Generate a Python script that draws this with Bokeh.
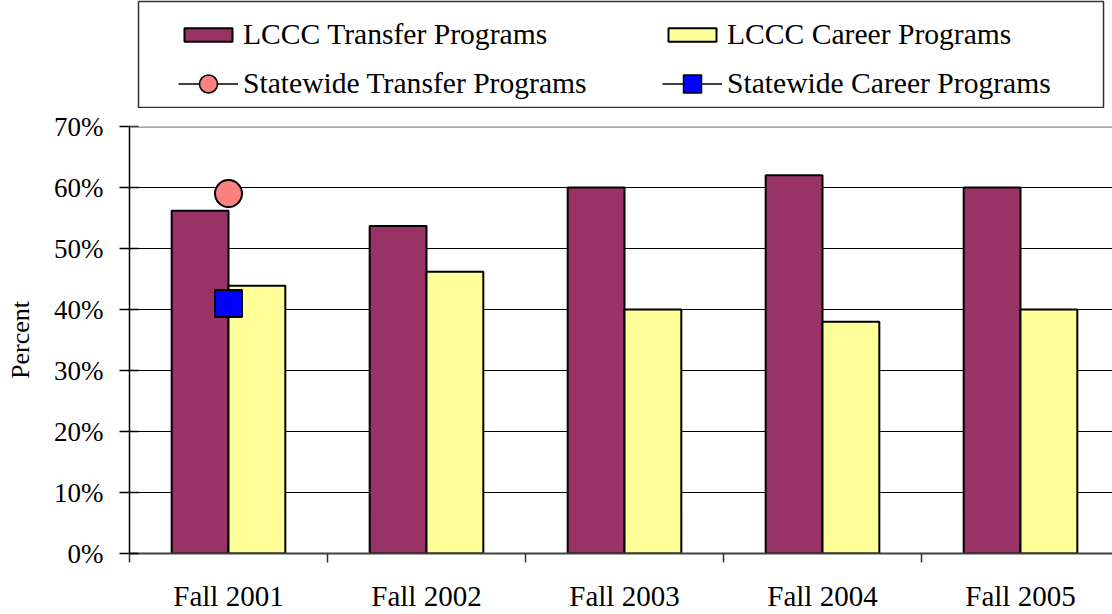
import numpy as np
from bokeh.plotting import figure
from bokeh.models import (Range1d, FixedTicker, Legend, LegendItem, Span,
                          ColumnDataSource)
from bokeh.layouts import column
from bokeh.transform import dodge
from bokeh.embed import file_html
from bokeh.resources import INLINE

# ---------------- data ----------------
categories = ["Fall 2001", "Fall 2002", "Fall 2003", "Fall 2004", "Fall 2005"]
lccc_transfer = [56.2, 53.7, 60.0, 62.0, 60.0]
lccc_career = [43.9, 46.2, 40.0, 38.0, 40.0]
statewide_transfer = [59.0, np.nan, np.nan, np.nan, np.nan]
statewide_career = [41.0, np.nan, np.nan, np.nan, np.nan]
y_ticks = [0, 10, 20, 30, 40, 50, 60, 70]
y_tick_labels = ["0%", "10%", "20%", "30%", "40%", "50%", "60%", "70%"]
y_title = "Percent"
series_names = ["LCCC Transfer Programs", "LCCC Career Programs",
                "Statewide Transfer Programs", "Statewide Career Programs"]

# ---------------- style ----------------
FONT = "Liberation Serif"
TRANSFER_COLOR = "#993366"
CAREER_COLOR = "#FFFF99"
ST_T_COLOR = "#FF8080"
ST_C_COLOR = "#0000FF"
BAR_W = 0.287
CAT_PX = 198.0
FIG_W = 1112
LEFT_BORDER = 129
TOP_H = 108
MAIN_H = 506
FRAME_H = 427
MAIN_TOP = 18

x_centers = np.arange(len(categories)) + 0.5
src = ColumnDataSource(dict(x=x_centers, cat=categories,
                            transfer=lccc_transfer, career=lccc_career,
                            st_t=statewide_transfer, st_c=statewide_career))

# ---------------- main chart ----------------
p = figure(width=FIG_W, height=MAIN_H,
           x_range=Range1d(0, (FIG_W - LEFT_BORDER) / CAT_PX),
           y_range=Range1d(y_ticks[0], y_ticks[-1]),
           output_backend="svg", toolbar_location=None,
           min_border_left=LEFT_BORDER, min_border_right=0,
           min_border_top=MAIN_TOP,
           min_border_bottom=MAIN_H - MAIN_TOP - FRAME_H)
p.frame_align = False
p.outline_line_color = None
p.background_fill_color = "white"
p.border_fill_color = "white"

p.vbar(x=dodge("x", -BAR_W / 2), top="transfer", width=BAR_W, source=src,
       fill_color=TRANSFER_COLOR, line_color="black", line_width=2)
p.vbar(x=dodge("x", BAR_W / 2), top="career", width=BAR_W, source=src,
       fill_color=CAREER_COLOR, line_color="black", line_width=2)
p.scatter(x="x", y="st_t", source=src, marker="circle", size=27,
          fill_color=ST_T_COLOR, line_color="black", line_width=2)
p.scatter(x="x", y="st_c", source=src, marker="square", size=27,
          fill_color=ST_C_COLOR, line_color="black", line_width=2)

# grid
p.xgrid.visible = False
p.ygrid.ticker = FixedTicker(ticks=y_ticks[1:-1])
p.ygrid.grid_line_color = "black"
p.ygrid.grid_line_width = 1
p.add_layout(Span(location=y_ticks[-1], dimension="width",
                  line_color="#8c8c8c", line_width=2.5))

# y axis
ya = p.yaxis[0]
ya.ticker = FixedTicker(ticks=y_ticks)
ya.major_label_overrides = {t: l for t, l in zip(y_ticks, y_tick_labels)}
ya.major_tick_in = 9
ya.major_tick_out = 10
ya.minor_tick_line_color = None
ya.axis_line_color = "black"
ya.axis_line_width = 1.5
ya.major_tick_line_color = "black"
ya.major_tick_line_width = 1.5
ya.major_label_text_font = FONT
ya.major_label_text_font_size = "27px"
ya.major_label_text_color = "black"
ya.major_label_standoff = 16
ya.axis_label = y_title
ya.axis_label_text_font = FONT
ya.axis_label_text_font_size = "26px"
ya.axis_label_text_font_style = "normal"
ya.axis_label_text_color = "black"
ya.axis_label_standoff = 16

# x axis
xa = p.xaxis[0]
xa.ticker = FixedTicker(ticks=list(x_centers),
                        minor_ticks=list(range(len(categories) + 1)))
xa.major_label_overrides = {float(x): c for x, c in zip(x_centers, categories)}
xa.major_tick_in = 0
xa.major_tick_out = 0
xa.minor_tick_in = 0
xa.minor_tick_out = 9
xa.minor_tick_line_color = "#333333"
xa.minor_tick_line_width = 1.5
xa.axis_line_color = "#404040"
xa.axis_line_width = 2
xa.major_label_text_font = FONT
xa.major_label_text_font_size = "29px"
xa.major_label_text_color = "black"
xa.major_label_standoff = 17

# ---------------- legend panel ----------------
top = figure(width=FIG_W, height=TOP_H, x_range=Range1d(0, 1),
             y_range=Range1d(0, 1), x_axis_location=None,
             y_axis_location=None, output_backend="svg",
             toolbar_location=None, min_border_left=138,
             min_border_right=9, min_border_top=1, min_border_bottom=0)
top.frame_align = False
top.grid.visible = False
top.outline_line_color = "#333333"
top.outline_line_width = 1.5

# legend-only renderers (hidden; they only supply the legend glyphs)
r_t = top.vbar(x=x_centers, top=lccc_transfer, width=BAR_W,
               fill_color=TRANSFER_COLOR, line_color="black", line_width=2,
               visible=False)
r_c = top.vbar(x=x_centers, top=lccc_career, width=BAR_W,
               fill_color=CAREER_COLOR, line_color="black", line_width=2,
               visible=False)
r_lt = top.line(x=x_centers, y=statewide_transfer, line_color="black",
                line_width=1.5, visible=False)
r_lc = top.line(x=x_centers, y=statewide_career, line_color="black",
                line_width=1.5, visible=False)
r_mt = top.scatter(x=x_centers, y=statewide_transfer, marker="circle",
                   fill_color=ST_T_COLOR, line_color="black", line_width=1.5,
                   visible=False)
r_mc = top.scatter(x=x_centers, y=statewide_career, marker="square",
                   fill_color=ST_C_COLOR, line_color="black", line_width=1.5,
                   visible=False)


def style_legend(lg, gh):
    lg.orientation = "horizontal"
    lg.ncols = 2
    lg.glyph_width = 60
    lg.glyph_height = gh
    lg.label_width = 403
    lg.label_standoff = 5
    lg.spacing = 16
    lg.padding = 0
    lg.margin = 0
    lg.border_line_color = None
    lg.background_fill_alpha = 0
    lg.inactive_fill_alpha = 0
    lg.label_text_font = FONT
    lg.label_text_font_size = "29.6px"
    lg.label_text_color = "black"


legA = Legend(items=[LegendItem(label=series_names[0], renderers=[r_t]),
                     LegendItem(label=series_names[1], renderers=[r_c]),
                     LegendItem(label=series_names[2], renderers=[r_lt]),
                     LegendItem(label=series_names[3], renderers=[r_lc])],
              location=(40, 8))
style_legend(legA, 17)
top.add_layout(legA, "center")

legB = Legend(items=[LegendItem(label=" ", renderers=[r_mt]),
                     LegendItem(label=" ", renderers=[r_mc])],
              location=(40, 2.5))
style_legend(legB, 45)
top.add_layout(legB, "center")

layout = column(top, p, spacing=0)
open("out.html", "w").write(file_html(layout, INLINE))
